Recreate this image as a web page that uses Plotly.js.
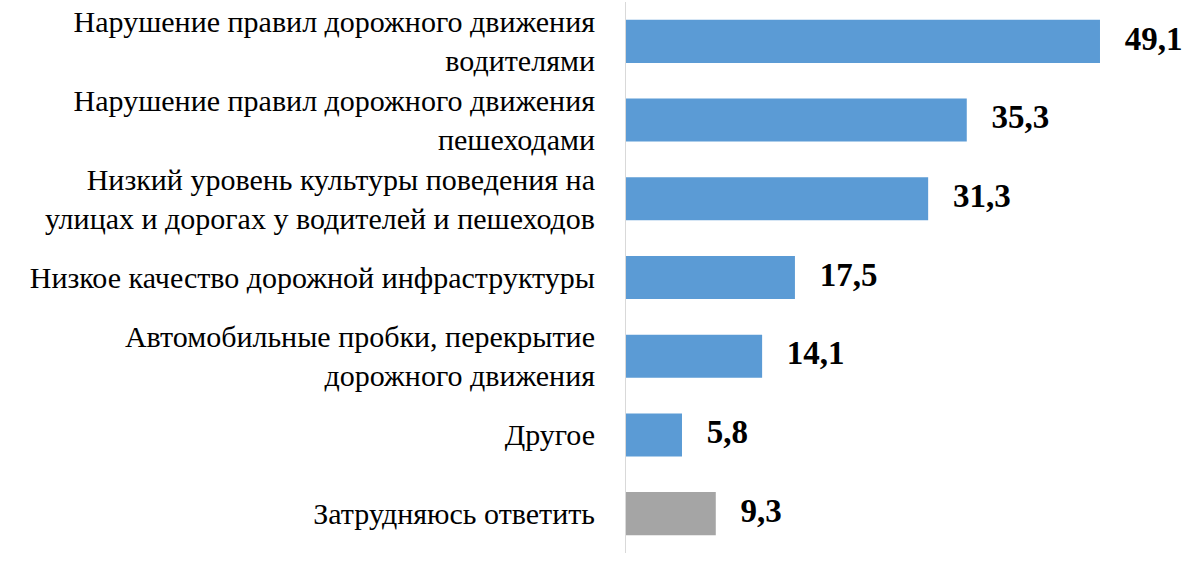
<!DOCTYPE html>
<html>
<head>
<meta charset="utf-8">
<script src="https://cdn.plot.ly/plotly-3.0.1.min.js"></script>
<style>
html,body{margin:0;padding:0;background:#fff;}
#chart{width:1200px;height:561px;}
</style>
</head>
<body>
<div id="chart"></div>
<script>
const categories = [
  "Нарушение правил дорожного движения<br>водителями",
  "Нарушение правил дорожного движения<br>пешеходами",
  "Низкий уровень культуры поведения на<br>улицах и дорогах у водителей и пешеходов",
  "Низкое качество дорожной инфраструктуры",
  "Автомобильные пробки, перекрытие<br>дорожного движения",
  "Другое",
  "Затрудняюсь ответить"
];
const values = [49.1, 35.3, 31.3, 17.5, 14.1, 5.8, 9.3];
const barColors = ["#5B9BD5","#5B9BD5","#5B9BD5","#5B9BD5","#5B9BD5","#5B9BD5","#A5A5A5"];

const bars = {
  type: 'bar',
  orientation: 'h',
  x: values,
  y: categories,
  marker: {color: barColors},
  hoverinfo: 'none'
};

const labels = {
  type: 'scatter',
  mode: 'text',
  x: values,
  y: categories,
  texttemplate: '   %{x:.1f}',
  textposition: 'middle right',
  cliponaxis: false,
  textfont: {family: 'Times New Roman', size: 33, color: '#000', weight: 'bold'},
  hoverinfo: 'none'
};

const layout = {
  width: 1200, height: 561,
  margin: {l: 626, r: 0, t: 2, b: 8},
  separators: ', ',
  bargap: 0.453,
  showlegend: false,
  font: {family: 'Liberation Serif', color: '#000'},
  xaxis: {range: [0, 59.46], visible: false},
  yaxis: {
    autorange: 'reversed',
    showline: true, linecolor: '#D9D9D9', linewidth: 1,
    ticklabelstandoff: 24,
    tickfont: {family: 'Liberation Serif', size: 30, color: '#000'}
  }
};

Plotly.newPlot('chart', [bars, labels], layout, {staticPlot: true});
</script>
</body>
</html>
